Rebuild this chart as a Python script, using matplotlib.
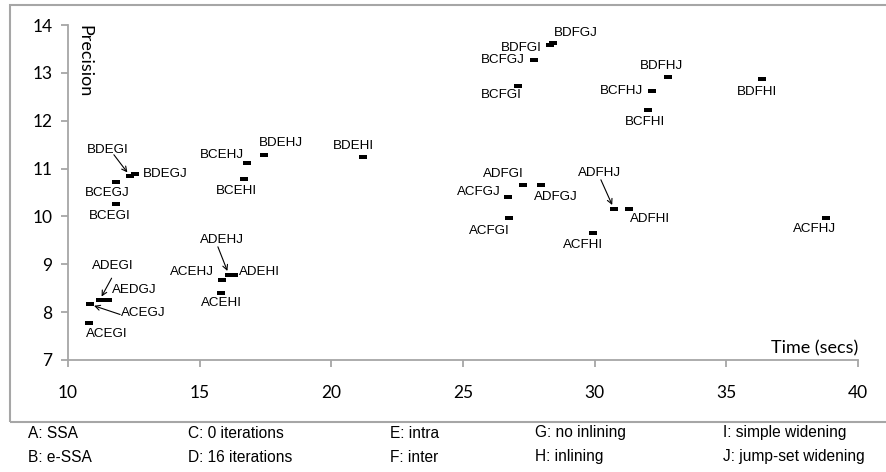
import matplotlib
matplotlib.use("Agg")
import matplotlib.pyplot as plt
from matplotlib.patches import Rectangle

# configuration names, time (secs), precision
names = ["ACEGI", "ACEGJ", "ADEGI", "AEDGJ", "BCEGI", "BCEGJ", "BDEGI", "BDEGJ",
         "ACEHI", "ACEHJ", "ADEHJ", "ADEHI", "BCEHI", "BCEHJ", "BDEHJ", "BDEHI",
         "ACFGI", "ACFGJ", "ADFGI", "ADFGJ", "BCFGI", "BCFGJ", "BDFGI", "BDFGJ",
         "ACFHI", "ADFHJ", "ADFHI", "ACFHJ", "BCFHI", "BCFHJ", "BDFHJ", "BDFHI"]
times = [10.80, 10.84, 11.20, 11.50, 11.81, 11.81, 12.35, 12.54,
         15.81, 15.84, 16.11, 16.30, 16.67, 16.81, 17.46, 21.19,
         26.76, 26.70, 27.27, 27.95, 27.10, 27.71, 28.30, 28.43,
         29.95, 30.73, 31.32, 38.77, 32.04, 32.18, 32.80, 36.37]
precision = [7.77, 8.16, 8.25, 8.25, 10.26, 10.72, 10.85, 10.89,
             8.40, 8.67, 8.78, 8.78, 10.78, 11.11, 11.28, 11.24,
             9.96, 10.41, 10.66, 10.66, 12.73, 13.27, 13.58, 13.62,
             9.65, 10.16, 10.16, 9.97, 12.22, 12.62, 12.91, 12.88]

legend_rows = [["A: SSA", "C: 0 iterations", "E: intra", "G: no inlining", "I: simple widening"],
               ["B: e-SSA", "D: 16 iterations", "F: inter", "H: inlining", "J: jump-set widening"]]

# label placement in pixels relative to the mark: (dx, dy, ha)
label_pos = {
    "ACEGI": (18, -11, "center"), "ACEGJ": (53, -9, "center"),
    "ADEGI": (13, 34, "center"), "AEDGJ": (27, 10, "center"),
    "BCEGI": (-6, -12, "center"), "BCEGJ": (-8, -11, "center"),
    "BDEGI": (-22, 26, "center"), "BDEGJ": (8, 0, "left"),
    "ACEHI": (0, -10, "center"), "ACEHJ": (-8, 8, "right"),
    "ADEHJ": (-7, 35, "center"), "ADEHI": (5, 3, "left"),
    "BCEHI": (-7, -12, "center"), "BCEHJ": (-3, 8, "right"),
    "BDEHJ": (16, 12, "center"), "BDEHI": (-9, 11, "center"),
    "ACFGI": (-20, -13, "center"), "ACFGJ": (-7, 5, "right"),
    "ADFGI": (-19, 11, "center"), "ADFGJ": (15, -12, "center"),
    "BCFGI": (-17, -9, "center"), "BCFGJ": (-10, 0, "right"),
    "BDFGI": (-8, -3, "right"), "BDFGJ": (1, 10, "left"),
    "ACFHI": (-10, -12, "center"), "ADFHJ": (-14, 36, "center"),
    "ADFHI": (21, -10, "center"), "ACFHJ": (-11, -11, "center"),
    "BCFHI": (-3, -12, "center"), "BCFHJ": (-9, 0, "right"),
    "BDFHJ": (-7, 11, "center"), "BDFHI": (-5, -13, "center"),
}
# arrow tails in pixels relative to the mark
arrow_tail = {"BDEGI": (-16, 21), "ADEGI": (12, 22), "ACEGJ": (30, -10),
              "ADEHJ": (-11, 28), "ADFHJ": (-13, 29)}

W, H = 886, 472
fig = plt.figure(figsize=(W / 100, H / 100), dpi=100)
ax = fig.add_axes([68 / W, 112 / H, 790 / W, 335 / H])

dash = [(-1, -0.45), (1, -0.45), (1, 0.45), (-1, 0.45), (-1, -0.45)]
ax.plot(times, precision, linestyle="none", marker=dash, markersize=6.3,
        color="black", markeredgewidth=0, zorder=3)

for n, x, y in zip(names, times, precision):
    dx, dy, ha = label_pos[n]
    ax.annotate(n, (x, y), xytext=(dx, dy), textcoords="offset pixels",
                ha=ha, va="center", fontsize=9.6, family="Liberation Sans")
    if n in arrow_tail:
        ax.annotate("", (x, y), xytext=arrow_tail[n], textcoords="offset pixels",
                    arrowprops=dict(arrowstyle="->,head_length=0.35,head_width=0.18",
                                    color="black", lw=0.8, shrinkA=0, shrinkB=3))

ax.set_xlim(10, 40)
ax.set_ylim(7, 14)
ax.set_xticks(range(10, 41, 5))
ax.set_yticks(range(7, 15))
for s in ["top", "right"]:
    ax.spines[s].set_visible(False)
for s in ["left", "bottom"]:
    ax.spines[s].set_color("#a6a6a6")
    ax.spines[s].set_linewidth(1.3)
ax.tick_params(direction="out", length=5, width=1.3, color="#a6a6a6",
               labelsize=12.5, pad=6)
ax.tick_params(axis="x", pad=13)
for lab in ax.get_xticklabels() + ax.get_yticklabels():
    lab.set_family("Lato")

ax.text(0.011, 1.0, "Precision", transform=ax.transAxes, rotation=-90,
        ha="left", va="top", fontsize=13, family="Lato")
ax.text(1.0, 0.012, "Time (secs)", transform=ax.transAxes,
        ha="right", va="bottom", fontsize=13, family="Lato")

# outer frame
fig.patches.append(Rectangle((9.5 / W, 1 - 421.5 / H), 1000 / W, 417 / H,
                             transform=fig.transFigure, fill=False,
                             edgecolor="#a6a6a6", linewidth=1.5))

col_x = [28, 188, 390, 535, 723]
row_y = [433, 457]
for r, row in enumerate(legend_rows):
    for c, t in enumerate(row):
        fig.text(col_x[c] / W, 1 - row_y[r] / H, t, ha="left", va="center",
                 fontsize=11.2, family="Liberation Sans")

fig.savefig("out.png", dpi=100)
